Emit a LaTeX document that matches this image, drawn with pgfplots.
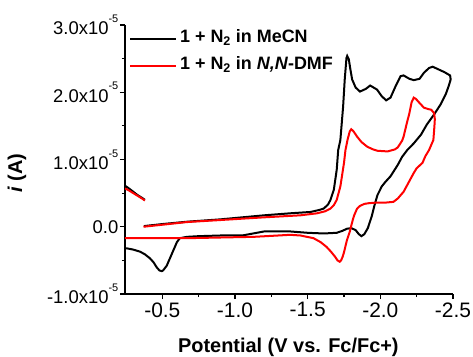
\documentclass[border=0pt]{standalone}
\usepackage{pgfplots}
\pgfplotsset{compat=1.18}
\usepackage{fontspec}
\setmainfont{Liberation Sans}
\newcommand{\sci}[1]{\mbox{#1x10\raisebox{0.66em}{\fontsize{11}{11}\selectfont -5}}}
\begin{document}
\begin{tikzpicture}
\path[use as bounding box] (0,0) rectangle (473bp,357bp);
\begin{axis}[
  at={(125bp,63bp)}, anchor=south west,
  scale only axis, width=328bp, height=269bp,
  x dir=reverse, xmin=-2.5, xmax=-0.243, ymin=-1, ymax=3,
  axis lines=left, axis line style={line width=1.6bp, -},
  tick align=outside, major tick length=5bp, minor tick length=3bp,
  tick style={line width=1.2bp, black},
  xtick={-0.5,-1,-1.5,-2,-2.5},
  xticklabels={\mbox{-0.5},\mbox{-1.0},\mbox{-1.5},\mbox{-2.0},\mbox{-2.5}},
  minor xtick={-0.75,-1.25,-1.75,-2.25},
  ytick={-1,0,1,2,3},
  yticklabels={\sci{-1.0},\mbox{0.0},\sci{1.0},\sci{2.0},\sci{3.0}},
  minor ytick={-0.5,0.5,1.5,2.5},
  xticklabel style={font=\fontsize{21}{25}\selectfont},
  yticklabel style={font=\fontsize{18.5}{22}\selectfont, inner xsep=1.5bp},
  xlabel={Potential (V vs. Fc/Fc+)},
  xlabel style={font=\bfseries\fontsize{20}{24}\selectfont, at={(axis description cs:0.498,-0.216)}, anchor=base},
  ylabel={\textit{i} (A)},
  ylabel style={font=\bfseries\fontsize{20}{24}\selectfont, at={(axis description cs:-0.329,0.45)}, anchor=center},
  legend style={at={(axis description cs:0.012,1.0)}, anchor=north west, draw=none, fill=none,
    font=\bfseries\fontsize{18}{22}\selectfont, inner sep=0pt, row sep=0pt,
    nodes={inner xsep=3bp, inner ysep=4.5bp, text height=13bp, text depth=5bp}},
  legend cell align=left,
  legend image code/.code={\draw[#1, line width=2bp] (0bp,0bp) -- (46bp,0bp);},
]
% black: 1 + N2 in MeCN
\addplot[black, line width=2bp] coordinates {
(-0.374,0.01) (-0.50,0.04) (-0.67,0.075) (-0.90,0.11) (-1.20,0.17) (-1.38,0.20) (-1.45,0.21)
(-1.52,0.22) (-1.58,0.25) (-1.61,0.27) (-1.64,0.33) (-1.657,0.40) (-1.68,0.55) (-1.70,0.85)
(-1.71,1.14) (-1.725,1.29) (-1.744,1.79) (-1.755,2.19) (-1.767,2.51) (-1.772,2.54) (-1.783,2.49)
(-1.794,2.34) (-1.806,2.19) (-1.83,2.07) (-1.86,2.01) (-1.90,2.05) (-1.93,2.10) (-1.977,2.04)
(-2.01,1.94) (-2.04,1.88) (-2.07,1.92) (-2.105,2.09) (-2.14,2.24) (-2.16,2.25) (-2.20,2.20)
(-2.23,2.18) (-2.27,2.20) (-2.30,2.29) (-2.335,2.36) (-2.36,2.38) (-2.39,2.35) (-2.44,2.30)
(-2.48,2.25) (-2.484,2.19) (-2.47,2.09) (-2.45,1.97) (-2.415,1.82) (-2.37,1.67) (-2.32,1.52)
(-2.28,1.37) (-2.23,1.24) (-2.185,1.14) (-2.15,1.04) (-2.12,0.92) (-2.07,0.75) (-2.036,0.67)
(-2.01,0.60) (-1.98,0.47) (-1.96,0.32) (-1.94,0.15) (-1.914,-0.02) (-1.89,-0.11) (-1.87,-0.14)
(-1.852,-0.11) (-1.83,-0.05) (-1.80,-0.02) (-1.77,-0.03) (-1.74,-0.06) (-1.70,-0.09) (-1.61,-0.10)
(-1.50,-0.09) (-1.38,-0.07) (-1.20,-0.07) (-1.05,-0.13) (-0.90,-0.13) (-0.75,-0.14) (-0.67,-0.15)
(-0.62,-0.17) (-0.60,-0.23) (-0.576,-0.35) (-0.55,-0.48) (-0.53,-0.58) (-0.505,-0.65) (-0.496,-0.66)
(-0.48,-0.65) (-0.46,-0.60) (-0.44,-0.53) (-0.415,-0.47) (-0.38,-0.41) (-0.346,-0.37) (-0.30,-0.34)
(-0.253,-0.32) (-0.243,-0.32)
};
\addlegendentry{1 + N\textsubscript{2} in MeCN}
\addplot[red, line width=2bp] coordinates {
(-0.37,0.0) (-0.50,0.03) (-0.67,0.07) (-0.90,0.10) (-1.20,0.14) (-1.45,0.17) (-1.565,0.20)
(-1.62,0.23) (-1.657,0.27) (-1.68,0.32) (-1.70,0.40) (-1.725,0.60) (-1.75,0.95) (-1.76,1.14)
(-1.775,1.30) (-1.79,1.42) (-1.80,1.45) (-1.815,1.42) (-1.84,1.34) (-1.87,1.26) (-1.91,1.19)
(-1.95,1.15) (-1.98,1.13) (-2.05,1.12) (-2.10,1.15) (-2.12,1.18) (-2.15,1.28) (-2.16,1.34)
(-2.18,1.52) (-2.20,1.69) (-2.215,1.85) (-2.23,1.92) (-2.245,1.90) (-2.27,1.84) (-2.30,1.77)
(-2.33,1.75) (-2.35,1.74) (-2.37,1.69) (-2.375,1.60) (-2.372,1.49) (-2.365,1.29) (-2.335,1.14)
(-2.31,1.05) (-2.29,0.95) (-2.25,0.87) (-2.23,0.80) (-2.20,0.68) (-2.16,0.52) (-2.12,0.42)
(-2.09,0.37) (-2.04,0.36) (-1.98,0.36) (-1.92,0.35) (-1.89,0.34) (-1.86,0.31) (-1.84,0.27)
(-1.82,0.17) (-1.81,0.10) (-1.79,-0.07) (-1.77,-0.20) (-1.75,-0.38) (-1.74,-0.45) (-1.73,-0.50)
(-1.72,-0.52) (-1.705,-0.50) (-1.69,-0.45) (-1.66,-0.37) (-1.63,-0.30) (-1.59,-0.23) (-1.54,-0.17)
(-1.45,-0.13) (-1.38,-0.12) (-1.13,-0.15) (-0.67,-0.17) (-0.243,-0.17)
};
\addlegendentry{1 + N\textsubscript{2} in \textit{N,N}-DMF}
% start-of-scan tails
\addplot[black, line width=2bp, forget plot] coordinates {
(-0.243,0.61) (-0.27,0.57) (-0.30,0.52) (-0.33,0.47) (-0.36,0.43) (-0.38,0.40)
};
\addplot[red, line width=2bp, forget plot] coordinates {
(-0.243,0.57) (-0.27,0.54) (-0.30,0.50) (-0.33,0.46) (-0.36,0.42) (-0.38,0.39)
};
\end{axis}
\end{tikzpicture}
\end{document}
